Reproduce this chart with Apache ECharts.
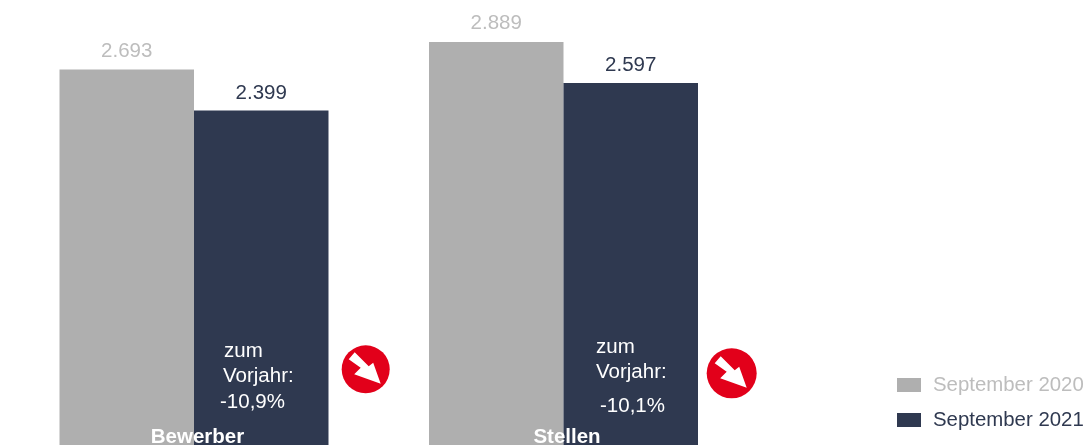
<!DOCTYPE html>
<html>
<head>
<meta charset="utf-8">
<style>
    html, body { margin: 0; padding: 0; width: 1086px; height: 445px; background: #fff; overflow: hidden; }
    #chart { width: 1086px; height: 445px; }
</style>
<script src="https://cdn.jsdelivr.net/npm/echarts@6/dist/echarts.min.js"></script>
</head>
<body>
<div id="chart"></div>
<script>
var categories = ['Bewerber', 'Stellen'];
var legendNames = ['September 2020', 'September 2021'];
var values2020 = [2693, 2889];
var values2021 = [2399, 2597];
var changeLabels = ['-10,9%', '-10,1%'];

var FONT = '"Liberation Sans", Arial, sans-serif';
var GREY = '#afafaf';
var GREY_TEXT = '#bdbdbd';
var NAVY = '#2f3950';
var RED = '#e2001a';

function dotted(p) {
    return String(p.value).replace(/(\d)(\d{3})$/, '$1.$2');
}

// white annotation text inside the dark bars
function note(text, x, y) {
    return {
        type: 'text',
        x: x,
        y: y,
        z: 100,
        style: {
            text: text,
            fill: '#fff',
            font: '20.5px ' + FONT,
            verticalAlign: 'middle'
        }
    };
}

// red circle with the down-right arrow
function arrow(cx, cy, r) {
    return {
        type: 'group',
        x: cx,
        y: cy,
        z: 100,
        children: [
            {type: 'circle', z: 100, shape: {r: r}, style: {fill: RED}},
            {
                type: 'polygon',
                z: 101,
                shape: {points: [[-17, -10], [-11, -17], [3, -3], [7.5, -6.5], [15, 14.5], [-11.5, 5], [-5, -1.5]]},
                style: {fill: '#fff'}
            }
        ]
    };
}

var myChart = echarts.init(document.getElementById('chart'), null, {renderer: 'canvas'});

myChart.setOption({
    animation: false,
    // the zero line sits just below the window, keep it there
    grid: {left: 9.25, width: 739, top: 42, height: 404.5, outerBoundsMode: 'none'},
    legend: {
        left: 892,
        top: 370,
        orient: 'vertical',
        itemWidth: 24,
        itemHeight: 14,
        itemGap: 15,
        selectedMode: false,
        icon: 'rect',
        data: [
            {name: legendNames[0], textStyle: {color: GREY_TEXT}},
            {name: legendNames[1], textStyle: {color: NAVY}}
        ],
        textStyle: {fontFamily: FONT, fontSize: 20.4, padding: [0, 0, 0, 7]}
    },
    xAxis: {
        type: 'category',
        data: categories,
        axisLine: {show: false},
        axisTick: {show: false},
        z: 10,
        axisLabel: {
            margin: -20,
            padding: [0, 0, 0, 7],
            color: '#fff',
            fontWeight: 'bold',
            fontFamily: FONT,
            fontSize: 20.5
        }
    },
    yAxis: {type: 'value', min: 0, max: 2889, show: false, splitLine: {show: false}},
    series: [
        {
            name: legendNames[0],
            type: 'bar',
            data: values2020,
            barGap: 0,
            barCategoryGap: '27.2%',
            itemStyle: {color: GREY},
            label: {
                show: true,
                position: 'top',
                distance: 8,
                formatter: dotted,
                color: GREY_TEXT,
                fontFamily: FONT,
                fontSize: 20.5
            }
        },
        {
            name: legendNames[1],
            type: 'bar',
            data: values2021,
            itemStyle: {color: NAVY},
            label: {
                show: true,
                position: 'top',
                distance: 7,
                formatter: dotted,
                color: NAVY,
                fontFamily: FONT,
                fontSize: 20.5
            }
        }
    ],
    graphic: [
        note('zum', 224, 351),
        note('Vorjahr:', 223, 376),
        note(changeLabels[0], 220, 402),
        note('zum', 596, 347),
        note('Vorjahr:', 596, 372),
        note(changeLabels[1], 600, 406),
        arrow(365.7, 369.3, 24),
        arrow(731.7, 373.3, 25)
    ]
});
</script>
</body>
</html>
